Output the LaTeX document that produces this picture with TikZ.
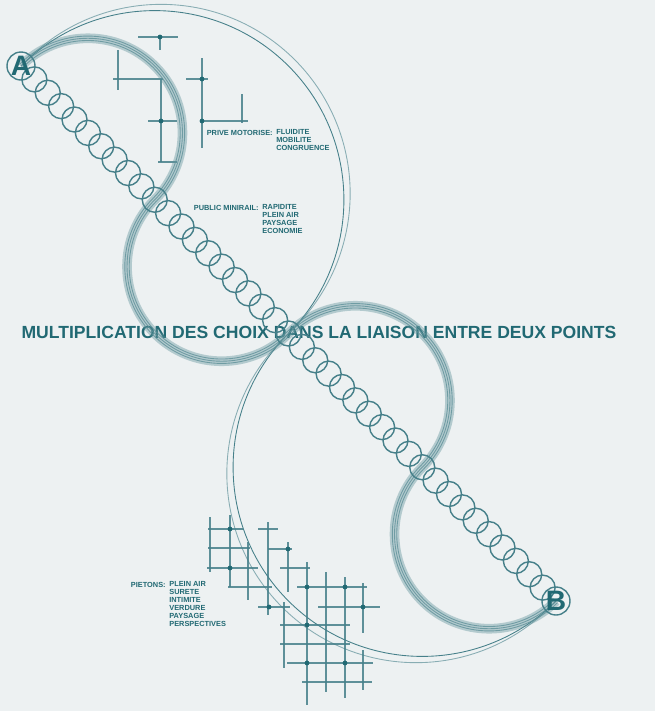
\documentclass[tikz,border=0pt]{standalone}
\usepackage{fontspec}
\setmainfont{Liberation Sans}
\usetikzlibrary{calc}

\definecolor{fond}{HTML}{EDF1F2}
\definecolor{encre}{HTML}{216973}
\definecolor{trait}{HTML}{46808A}
\definecolor{bande}{HTML}{5E9199}

\begin{document}
\begin{tikzpicture}[
  x=0.02cm, y=0.02cm,
  anneau/.style={trait, line width=0.5pt},
  chaine/.style={trait, line width=0.8pt},
  bandeau/.style={bande, line width=5.5pt, opacity=0.4},
  bandfil/.style={bande, line width=0.5pt, opacity=0.8},
  grille/.style={trait, line width=0.6pt, opacity=0.85},
  lettre/.style={text=encre, font=\fontsize{16}{16}\selectfont\bfseries, inner sep=0pt},
  cle/.style={text=encre, font=\fontsize{4.2}{4.5}\selectfont\bfseries, inner sep=0pt, anchor=north east},
  valeur/.style={text=encre, font=\fontsize{4.2}{4.5}\selectfont\bfseries, inner sep=0pt, anchor=north west, align=left},
]

% fond
\fill[fond] (0,0) rectangle (655,-711);
\useasboundingbox (0,0) rectangle (655,-711);

% les deux points
\coordinate (A) at (21,-66);
\coordinate (B) at (556,-601);
\coordinate (O) at ($(A)!0.5!(B)$);

% centres des demi-cercles
\coordinate (M1) at ($(A)!0.125!(B)$);
\coordinate (M2) at ($(A)!0.375!(B)$);
\coordinate (M3) at ($(A)!0.625!(B)$);
\coordinate (M4) at ($(A)!0.875!(B)$);
\coordinate (Mh) at ($(A)!0.25!(B)$);
\coordinate (Mb) at ($(A)!0.75!(B)$);
\coordinate (Mhx) at ($(Mh)+(45:8.8)$);
\coordinate (Mbx) at ($(Mb)+(225:8.8)$);

% grille du haut (prive motorise)
\foreach \y/\a/\b in {37/138/178, 79/113/163, 79/186/208, 121/148/177, 162/158/177, 121/202/248}
  \draw[grille] (\a,-\y) -- (\b,-\y);
\foreach \x/\a/\b in {160/37/50, 118/50/90, 161/79/162, 202/58/148, 242/94/123}
  \draw[grille] (\x,-\a) -- (\x,-\b);
\foreach \x/\y in {160/37, 161/121, 202/79, 202/121}
  \fill[encre] (\x,-\y) circle[radius=2.4];

% grille du bas (pietons)
\foreach \y/\a/\b in {529/208/243, 529/258/278, 548/208/250, 549/268/292, 568/207/258, 568/280/310,
                      587/228/272, 587/297/367, 607/258/290, 607/318/380, 625/280/350, 644/280/350,
                      663/287/373, 682/302/372}
  \draw[grille] (\a,-\y) -- (\b,-\y);
\foreach \x/\a/\b in {210/517/572, 230/515/587, 248/542/600, 268/522/615, 288/542/592, 284/602/668,
                      307/562/705, 326/572/692, 345/577/698, 363/583/633, 363/650/690}
  \draw[grille] (\x,-\a) -- (\x,-\b);
\foreach \x/\y in {230/529, 230/568, 288/549, 269/607, 307/587, 307/625, 307/663, 345/587, 345/663, 363/607}
  \fill[encre] (\x,-\y) circle[radius=2.4];

% legendes
\node[cle] (prive) at (273,-129.5) {PRIVE MOTORISE:};
\node[valeur] (privev) at (276,-129.5) {FLUIDITE\\MOBILITE\\CONGRUENCE};
\node[cle] (public) at (259,-204.5) {PUBLIC MINIRAIL:};
\node[valeur] (publicv) at (262,-204.5) {RAPIDITE\\PLEIN AIR\\PAYSAGE\\ECONOMIE};
\node[cle] (pietons) at (166,-581.5) {PIETONS:};
\node[valeur] (pietonsv) at (169,-581.5) {PLEIN AIR\\SURETE\\INTIMITE\\VERDURE\\PAYSAGE\\PERSPECTIVES};

% titre
\node[text=encre, font=\fontsize{10}{12}\selectfont\bfseries] (titre) at (319,-332)
  {MULTIPLICATION DES CHOIX DANS LA LIAISON ENTRE DEUX POINTS};

% grand S en double trait fin
\draw[anneau] (Mh) ++(135:189.15) arc[start angle=135, end angle=-45, radius=189.15];
\draw[anneau] (Mb) ++(135:189.15) arc[start angle=135, end angle=315, radius=189.15];
\draw[anneau, opacity=0.6] (Mhx) ++(137.7:189.2) arc[start angle=137.7, end angle=-47.7, radius=189.2];
\draw[anneau, opacity=0.6] (Mbx) ++(132.3:189.2) arc[start angle=132.3, end angle=317.7, radius=189.2];

% bande epaisse en quatre demi-cercles
\foreach \c/\s/\e in {M1/135/-45, M2/135/315, M3/135/-45, M4/135/315}{
  \draw[bandeau] (\c) ++(\s:94.6) arc[start angle=\s, end angle=\e, radius=94.6];
  \foreach \r in {92.4, 94.6, 96.8}
    \draw[bandfil] (\c) ++(\s:\r) arc[start angle=\s, end angle=\e, radius=\r];
}

% chaine d'anneaux entre A et B
\foreach \i in {1,...,39}
  \draw[chaine] ($(A)!\i/40!(B)$) circle[radius=12.5];

% A et B
\draw[chaine] (A) circle[radius=14];
\draw[chaine] (B) circle[radius=14];
\node[lettre] (lA) at (A) {A};
\node[lettre] (lB) at (B) {B};

\end{tikzpicture}
\end{document}
